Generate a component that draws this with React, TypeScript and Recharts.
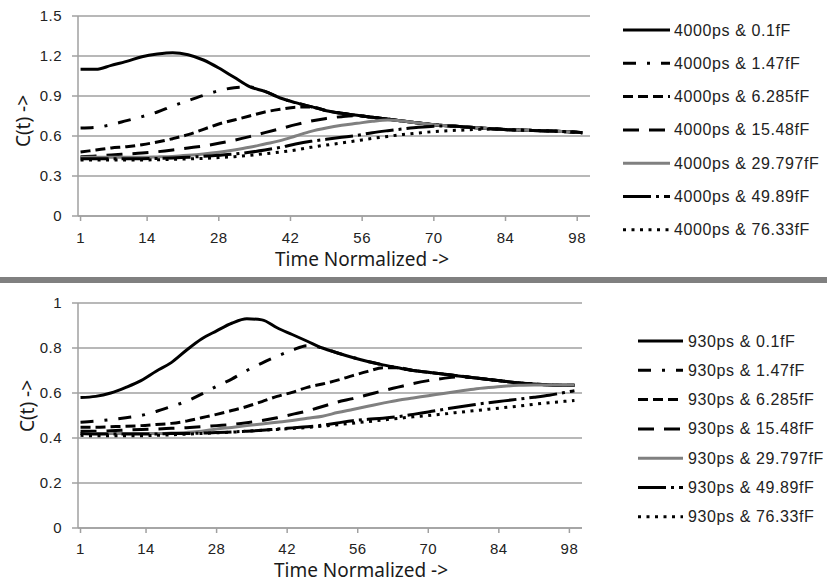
import React from 'react';
import { LineChart, Line, XAxis, YAxis, CartesianGrid } from 'recharts';

const X_VALUES = [1, 4, 7, 10, 13, 16, 19, 22, 25, 28, 31, 34, 37, 40, 43, 46, 49, 52, 55, 58, 61, 64, 67, 70, 73, 76, 79, 82, 85, 88, 91, 94, 97, 99];
const X_TICKS = [1, 14, 28, 42, 56, 70, 84, 98];
const TOP_Y_TICKS = [0, 0.3, 0.6, 0.9, 1.2, 1.5];
const BOTTOM_Y_TICKS = [0, 0.2, 0.4, 0.6, 0.8, 1];

const TOP_LABELS = ['4000ps & 0.1fF', '4000ps & 1.47fF', '4000ps & 6.285fF', '4000ps & 15.48fF', '4000ps & 29.797fF', '4000ps & 49.89fF', '4000ps & 76.33fF'];
const BOTTOM_LABELS = ['930ps & 0.1fF', '930ps & 1.47fF', '930ps & 6.285fF', '930ps & 15.48fF', '930ps & 29.797fF', '930ps & 49.89fF', '930ps & 76.33fF'];

const TOP_S1 = [1.10, 1.10, 1.13, 1.16, 1.195, 1.215, 1.225, 1.21, 1.17, 1.11, 1.04, 0.97, 0.935, 0.885, 0.85, 0.82, 0.79, 0.77, 0.755, 0.74, 0.727, 0.712, 0.697, 0.685, 0.676, 0.668, 0.66, 0.652, 0.647, 0.643, 0.64, 0.635, 0.63, 0.625];
const TOP_S2 = [0.66, 0.665, 0.685, 0.715, 0.745, 0.78, 0.825, 0.865, 0.905, 0.94, 0.962, 0.968, 0.935, 0.885, 0.85, 0.82, 0.79, 0.77, 0.755, 0.74, 0.727, 0.712, 0.697, 0.685, 0.676, 0.668, 0.66, 0.652, 0.647, 0.643, 0.64, 0.635, 0.63, 0.625];
const TOP_S3 = [0.48, 0.495, 0.51, 0.52, 0.535, 0.555, 0.58, 0.61, 0.65, 0.69, 0.72, 0.75, 0.78, 0.80, 0.815, 0.818, 0.79, 0.77, 0.755, 0.74, 0.727, 0.712, 0.697, 0.685, 0.676, 0.668, 0.66, 0.652, 0.647, 0.643, 0.64, 0.635, 0.63, 0.625];
const TOP_S4 = [0.445, 0.45, 0.458, 0.465, 0.472, 0.482, 0.495, 0.51, 0.525, 0.545, 0.568, 0.595, 0.625, 0.655, 0.685, 0.712, 0.732, 0.745, 0.752, 0.74, 0.727, 0.712, 0.697, 0.685, 0.676, 0.668, 0.66, 0.652, 0.647, 0.643, 0.64, 0.635, 0.63, 0.625];
const TOP_S5 = [0.44, 0.44, 0.44, 0.44, 0.44, 0.443, 0.447, 0.455, 0.465, 0.478, 0.495, 0.515, 0.54, 0.565, 0.60, 0.635, 0.66, 0.68, 0.695, 0.71, 0.72, 0.712, 0.697, 0.685, 0.676, 0.668, 0.66, 0.652, 0.647, 0.643, 0.64, 0.635, 0.63, 0.625];
const TOP_S6 = [0.43, 0.43, 0.43, 0.43, 0.43, 0.432, 0.435, 0.44, 0.448, 0.456, 0.465, 0.478, 0.495, 0.515, 0.54, 0.56, 0.575, 0.59, 0.605, 0.625, 0.64, 0.653, 0.665, 0.673, 0.675, 0.668, 0.66, 0.652, 0.647, 0.643, 0.64, 0.635, 0.63, 0.625];
const TOP_S7 = [0.42, 0.42, 0.42, 0.42, 0.42, 0.422, 0.425, 0.428, 0.432, 0.438, 0.445, 0.455, 0.467, 0.48, 0.495, 0.515, 0.532, 0.548, 0.565, 0.582, 0.597, 0.612, 0.623, 0.633, 0.64, 0.645, 0.65, 0.652, 0.647, 0.643, 0.64, 0.635, 0.63, 0.625];

const BOTTOM_S1 = [0.58, 0.585, 0.60, 0.625, 0.655, 0.697, 0.735, 0.79, 0.84, 0.876, 0.91, 0.93, 0.925, 0.89, 0.86, 0.83, 0.80, 0.778, 0.758, 0.74, 0.725, 0.712, 0.70, 0.692, 0.684, 0.676, 0.668, 0.66, 0.652, 0.645, 0.64, 0.636, 0.634, 0.634];
const BOTTOM_S2 = [0.47, 0.475, 0.482, 0.49, 0.50, 0.518, 0.54, 0.563, 0.595, 0.63, 0.662, 0.70, 0.733, 0.763, 0.79, 0.81, 0.80, 0.778, 0.758, 0.74, 0.725, 0.712, 0.70, 0.692, 0.684, 0.676, 0.668, 0.66, 0.652, 0.645, 0.64, 0.636, 0.634, 0.634];
const BOTTOM_S3 = [0.448, 0.448, 0.45, 0.452, 0.455, 0.46, 0.465, 0.475, 0.49, 0.505, 0.522, 0.54, 0.562, 0.585, 0.603, 0.625, 0.64, 0.657, 0.677, 0.696, 0.712, 0.712, 0.70, 0.692, 0.684, 0.676, 0.668, 0.66, 0.652, 0.645, 0.64, 0.636, 0.634, 0.634];
const BOTTOM_S4 = [0.43, 0.43, 0.432, 0.435, 0.438, 0.44, 0.443, 0.446, 0.45, 0.455, 0.46, 0.468, 0.478, 0.49, 0.505, 0.52, 0.54, 0.56, 0.575, 0.592, 0.61, 0.626, 0.642, 0.655, 0.665, 0.672, 0.668, 0.66, 0.652, 0.645, 0.64, 0.636, 0.634, 0.634];
const BOTTOM_S5 = [0.42, 0.42, 0.42, 0.42, 0.42, 0.42, 0.422, 0.425, 0.43, 0.44, 0.447, 0.455, 0.462, 0.47, 0.478, 0.488, 0.497, 0.513, 0.527, 0.541, 0.555, 0.568, 0.578, 0.588, 0.598, 0.608, 0.617, 0.624, 0.63, 0.634, 0.636, 0.636, 0.636, 0.636];
const BOTTOM_S6 = [0.42, 0.418, 0.418, 0.418, 0.418, 0.418, 0.42, 0.42, 0.422, 0.424, 0.427, 0.43, 0.434, 0.44, 0.445, 0.45, 0.457, 0.467, 0.477, 0.483, 0.488, 0.495, 0.505, 0.516, 0.527, 0.538, 0.548, 0.557, 0.565, 0.573, 0.581, 0.59, 0.602, 0.61];
const BOTTOM_S7 = [0.412, 0.41, 0.41, 0.41, 0.41, 0.412, 0.414, 0.417, 0.42, 0.423, 0.426, 0.43, 0.434, 0.438, 0.442, 0.447, 0.453, 0.459, 0.466, 0.473, 0.48, 0.487, 0.494, 0.5, 0.507, 0.514, 0.521, 0.528, 0.535, 0.542, 0.55, 0.557, 0.563, 0.567];

const TOP_SERIES = [TOP_S1, TOP_S2, TOP_S3, TOP_S4, TOP_S5, TOP_S6, TOP_S7];
const BOTTOM_SERIES = [BOTTOM_S1, BOTTOM_S2, BOTTOM_S3, BOTTOM_S4, BOTTOM_S5, BOTTOM_S6, BOTTOM_S7];

const LINE_STYLES = [
  { color: '#000000', dash: undefined as string | undefined },
  { color: '#000000', dash: '13 11 3 11' },
  { color: '#000000', dash: '10 5' },
  { color: '#000000', dash: '16 10' },
  { color: '#808080', dash: undefined },
  { color: '#000000', dash: '28 5 3 5' },
  { color: '#000000', dash: '3 5.5' },
];

const TICK_FONT = { fontSize: 15, fill: '#222', fontFamily: '"Liberation Sans", Arial, sans-serif', letterSpacing: 0.5 };
const TITLE_FONT = '"Noto Sans", "Open Sans", sans-serif';
const GRID = '#a0a0a0';

function buildRows(series: number[][]) {
  return X_VALUES.map((x, i) => {
    const r: Record<string, number> = { x };
    series.forEach((s, k) => {
      r['s' + k] = s[i];
    });
    return r;
  });
}

function Panel(props: {
  series: number[][];
  names: string[];
  yTicks: number[];
  height: number;
  tickMargin: number;
  margin: { top: number; right: number; bottom: number; left: number };
}) {
  const rows = buildRows(props.series);
  return (
    <LineChart width={827} height={props.height} data={rows} margin={props.margin}>
      <CartesianGrid horizontal vertical={false} stroke={GRID} strokeWidth={1.5} />
      <XAxis
        dataKey="x"
        type="number"
        domain={[0.5, 100.5]}
        ticks={X_TICKS}
        interval={0}
        height={30}
        tickSize={5}
        tickMargin={props.tickMargin}
        stroke={GRID}
        strokeWidth={1.5}
        tick={TICK_FONT}
      />
      <YAxis
        type="number"
        domain={[props.yTicks[0], props.yTicks[props.yTicks.length - 1]]}
        ticks={props.yTicks}
        interval={0}
        width={50}
        tickSize={6}
        tickMargin={10}
        stroke={GRID}
        strokeWidth={1.5}
        tick={TICK_FONT}
      />
      {props.series.map((_, k) => (
        <Line
          key={k}
          type="monotone"
          dataKey={'s' + k}
          name={props.names[k]}
          stroke={LINE_STYLES[k].color}
          strokeWidth={3}
          strokeDasharray={LINE_STYLES[k].dash}
          dot={false}
          activeDot={false}
          isAnimationActive={false}
        />
      ))}
    </LineChart>
  );
}

function LegendBlock(props: { labels: string[]; x0: number; len: number; textX: number; y0: number; dy: number }) {
  return (
    <g>
      {props.labels.map((lab, i) => {
        const y = props.y0 + i * props.dy;
        const st = LINE_STYLES[i];
        return (
          <g key={i}>
            <line x1={props.x0} x2={props.x0 + props.len} y1={y} y2={y} stroke={st.color} strokeWidth={3} strokeDasharray={st.dash} />
            <text
              x={props.textX}
              y={y}
              dominantBaseline="central"
              fontSize={16}
              letterSpacing={0.6}
              fill="#222"
              fontFamily='"Liberation Sans", Arial, sans-serif'
            >
              {lab}
            </text>
          </g>
        );
      })}
    </g>
  );
}

export default function App() {
  return (
    <div style={{ position: 'absolute', left: 0, top: 0, width: 827, height: 587, background: '#fff', overflow: 'hidden' }}>
      <div style={{ position: 'absolute', left: 0, top: 0 }}>
        <Panel
          series={TOP_SERIES}
          names={TOP_LABELS}
          yTicks={TOP_Y_TICKS}
          height={277}
          tickMargin={11}
          margin={{ top: 16, right: 237, bottom: 31, left: 28 }}
        />
      </div>
      <div style={{ position: 'absolute', left: 0, top: 277, width: 827, height: 6, background: '#808080' }} />
      <div style={{ position: 'absolute', left: 0, top: 283 }}>
        <Panel
          series={BOTTOM_SERIES}
          names={BOTTOM_LABELS}
          yTicks={BOTTOM_Y_TICKS}
          height={304}
          tickMargin={10}
          margin={{ top: 20, right: 245, bottom: 29, left: 28 }}
        />
      </div>
      <svg width={827} height={587} style={{ position: 'absolute', left: 0, top: 0, pointerEvents: 'none' }}>
        <text x={23} y={121} transform="rotate(-90 23 121)" textAnchor="middle" dominantBaseline="central" fontSize={19} fill="#1a1a1a" fontFamily={TITLE_FONT}>
          C(t) -&gt;
        </text>
        <text x={362} y={266} textAnchor="middle" fontSize={19} fill="#1a1a1a" fontFamily={TITLE_FONT}>
          Time Normalized -&gt;
        </text>
        <text x={27} y={406} transform="rotate(-90 27 406)" textAnchor="middle" dominantBaseline="central" fontSize={19} fill="#1a1a1a" fontFamily={TITLE_FONT}>
          C(t) -&gt;
        </text>
        <text x={361} y={577} textAnchor="middle" fontSize={19} fill="#1a1a1a" fontFamily={TITLE_FONT}>
          Time Normalized -&gt;
        </text>
        <LegendBlock labels={TOP_LABELS} x0={623} len={47} textX={674} y0={30} dy={33.3} />
        <LegendBlock labels={BOTTOM_LABELS} x0={638} len={45} textX={688} y0={341} dy={29.3} />
      </svg>
    </div>
  );
}
